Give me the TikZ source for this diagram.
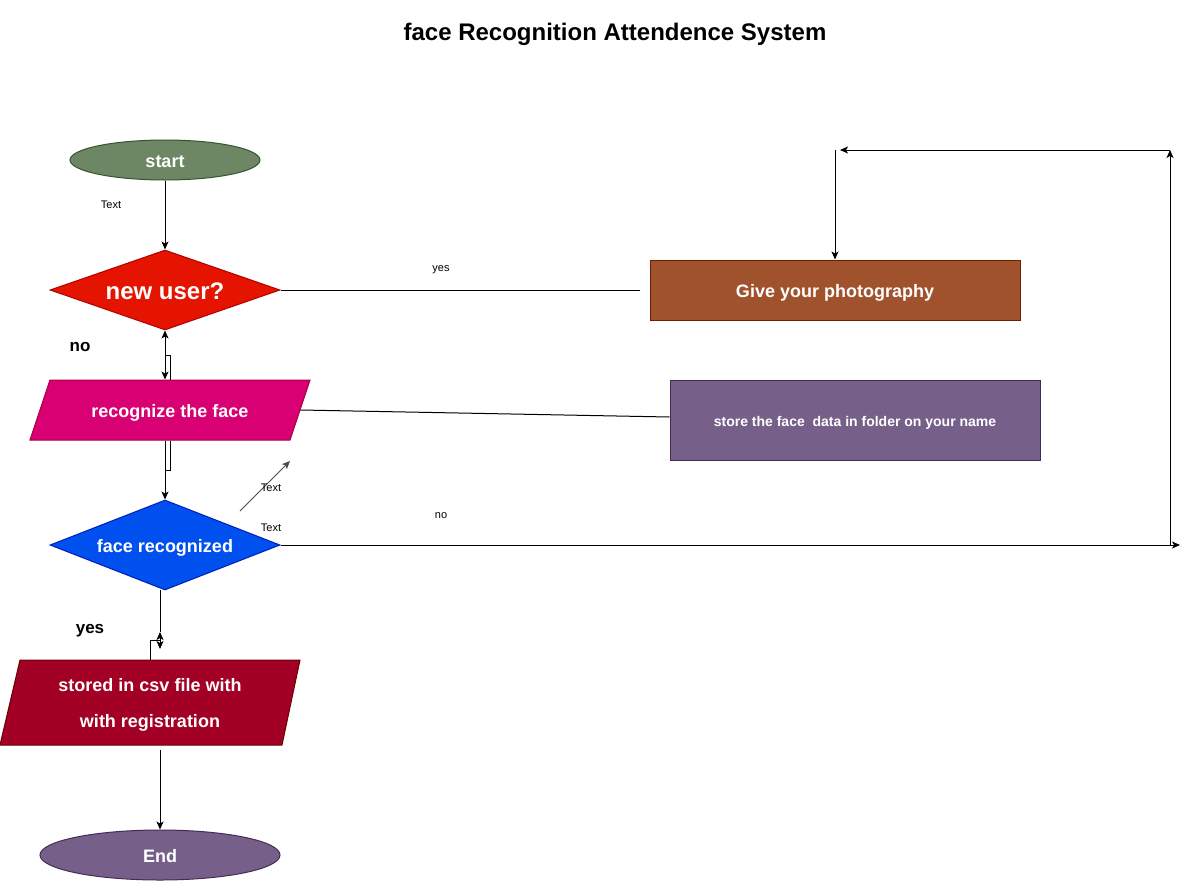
\documentclass[tikz,border=0pt]{standalone}
\usepackage{fontspec}
\setmainfont{Liberation Sans}
\usetikzlibrary{shapes.geometric,arrows.meta,calc}
\definecolor{cStart}{HTML}{6D8764}\definecolor{cStartD}{HTML}{3A5431}
\definecolor{cNew}{HTML}{E51400}\definecolor{cNewD}{HTML}{B20000}
\definecolor{cRec}{HTML}{D80073}\definecolor{cRecD}{HTML}{A50040}
\definecolor{cFace}{HTML}{0050EF}\definecolor{cFaceD}{HTML}{001DBC}
\definecolor{cCsv}{HTML}{A20025}\definecolor{cCsvD}{HTML}{6F0000}
\definecolor{cPur}{HTML}{76608A}\definecolor{cPurD}{HTML}{432D57}
\definecolor{cGive}{HTML}{A0522D}\definecolor{cGiveD}{HTML}{6D1F00}
\begin{document}
\begin{tikzpicture}[x=1pt,y=-1pt,line width=1pt,
  arr/.style={-{Stealth[length=8pt,width=7pt,inset=2pt]}},
  wt/.style={text=white,font=\bfseries\fontsize{18}{22}\selectfont,text height=14.5pt,text depth=0pt},
  lbl/.style={font=\fontsize{11}{13}\selectfont,text height=10pt,text depth=0pt},
  blbl/.style={font=\bfseries\fontsize{17}{20}\selectfont,text height=14pt,text depth=0pt},
  box/.style={rectangle,inner sep=0pt,line width=1pt}]
\useasboundingbox[fill=white] (0,0) rectangle (1189,881);

% title
\node[font=\bfseries\fontsize{24}{28}\selectfont,text height=19pt,text depth=0pt] (title) at (615,31) {face Recognition Attendence System};

% shapes
\node[ellipse,fill=cStart,draw=cStartD,minimum width=190pt,minimum height=40pt,inner sep=0pt,wt] (start) at (165,160) {start};
\node[diamond,shape aspect=2.875,fill=cNew,draw=cNewD,minimum width=230pt,minimum height=80pt,inner sep=0pt,text=white,font=\bfseries\fontsize{24}{28}\selectfont,text height=19pt,text depth=0pt] (newuser) at (165,290) {new user?};

\path[fill=cRec,draw=cRecD] (50,380) -- (310,380) -- (290,440) -- (30,440) -- cycle;
\node[box,minimum width=260pt,minimum height=60pt,wt] (recog) at (170,410) {recognize the face};

\node[diamond,shape aspect=2.56,fill=cFace,draw=cFaceD,minimum width=230pt,minimum height=90pt,inner sep=0pt,wt] (facerec) at (165,545) {face recognized};

\path[fill=cCsv,draw=cCsvD] (20,660) -- (300,660) -- (282,745) -- (0,745) -- cycle;
\node[box,minimum width=282pt,minimum height=85pt] (stored) at (150,702.5) {};
\node[text=white,align=center,font=\bfseries\fontsize{18}{36}\selectfont,inner sep=0pt] (storedtxt) at (150,704.5) {stored in csv file with\\with registration};

\node[ellipse,fill=cPur,draw=cPurD,minimum width=240pt,minimum height=50pt,inner sep=0pt,wt] (endn) at (160,855) {End};

\node[box,fill=cGive,draw=cGiveD,minimum width=370pt,minimum height=60pt,wt] (give) at (835,290) {Give your photography};
\node[box,fill=cPur,draw=cPurD,minimum width=370pt,minimum height=80pt,text=white,font=\bfseries\fontsize{14}{17}\selectfont,text height=13pt,text depth=0pt] (storef) at (855,420) {store the face\ \ data in folder on your name};

% coordinates
\coordinate (k1) at (165,355);
\coordinate (k2) at (165,470);
\coordinate (yesend) at (640,290);
\coordinate (noend) at (1180,545);
\coordinate (rb) at (1170,545);
\coordinate (rt) at (1170,150);
\coordinate (lt) at (840,150);
\coordinate (lt2) at (835,150);
\coordinate (d1) at (240,511);
\coordinate (d2) at (290,461);
\coordinate (f1) at (160,590);
\coordinate (f2) at (160,632);
\coordinate (f3) at (160,649);
\coordinate (f4) at (160,640);
\coordinate (s1) at (160,750);

% connectors
\draw[arr] (start.south) -- (newuser.north);
\node[lbl] (t1) at (111,203) {Text};

\draw[{Stealth[length=8pt,width=7pt,inset=2pt]}-{Stealth[length=8pt,width=7pt,inset=2pt]}] (newuser.south) -- (newuser.south |- recog.north);
\draw (k1) -| (recog.north);
\node[blbl] (no1) at (80,344) {no};

\draw[arr] (recog.south -| newuser.south) -- (facerec.north);
\draw (recog.south) |- (k2);

\draw (newuser.east) -- (yesend);
\node[lbl] (yes1) at (441,266) {yes};

\draw (recog.east) -- ($(storef.west)+(0,-3)$);

\draw[arr] (facerec.east) -- (noend);
\node[lbl] (no2) at (441,513) {no};
\draw[arr] (rb) -- (rt);
\draw[arr] (rt) -- (lt);
\draw[arr] (lt2) -- (give.north);

\draw[arr,draw=black!70] (d1) -- (d2);
\node[lbl] (t2) at (271,486) {Text};
\node[lbl] (t3) at (271,526) {Text};

\draw (f1) -- (f2);
\draw[{Stealth[length=8pt,width=7pt,inset=2pt]}-{Stealth[length=8pt,width=7pt,inset=2pt]}] (f2) -- (f3);
\draw (stored.north -| 150,0) |- (f4);
\node[blbl] (yes2) at (90,626) {yes};

\draw[arr] (s1) -- (endn.north);
\end{tikzpicture}
\end{document}
